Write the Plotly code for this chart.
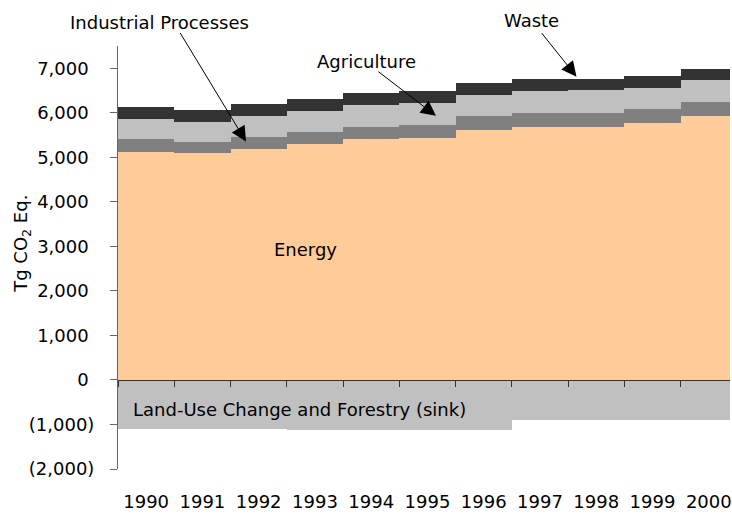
import plotly.graph_objects as go

years = ["1990", "1991", "1992", "1993", "1994", "1995", "1996", "1997", "1998", "1999", "2000"]
energy = [5124, 5086, 5191, 5310, 5409, 5438, 5617, 5691, 5691, 5781, 5931]
industrial = [292, 262, 269, 263, 282, 291, 314, 314, 314, 307, 314]
agriculture = [448, 449, 471, 470, 486, 493, 471, 486, 508, 477, 493]
waste = [275, 269, 269, 269, 269, 269, 269, 269, 247, 269, 246]
lucf = [-1105, -1105, -1105, -1120, -1120, -1120, -1120, -903, -903, -903, -903]

y_tickvals = [-2000, -1000, 0, 1000, 2000, 3000, 4000, 5000, 6000, 7000]
y_ticktext = ["(2,000)", "(1,000)", "0\u00a0", "1,000\u00a0", "2,000\u00a0", "3,000\u00a0",
              "4,000\u00a0", "5,000\u00a0", "6,000\u00a0", "7,000\u00a0"]

FONT = "DejaVu Sans, Verdana, sans-serif"
FS = 18

fig = go.Figure()
series = [
    ("Energy", energy, "#FFCC99"),
    ("Industrial Processes", industrial, "#808080"),
    ("Agriculture", agriculture, "#C0C0C0"),
    ("Waste", waste, "#333333"),
    ("Land-Use Change and Forestry (sink)", lucf, "#C0C0C0"),
]
for name, vals, col in series:
    fig.add_trace(go.Bar(x=years, y=vals, name=name, marker=dict(color=col, line=dict(width=0)),
                         showlegend=False))

# invisible trace to carry the zero-line axis
fig.add_trace(go.Scatter(x=years, y=[0] * len(years), xaxis="x2", mode="markers",
                         marker=dict(opacity=0), hoverinfo="skip", showlegend=False))

xr = [-0.5, 10.377]
fig.update_layout(
    width=732, height=515,
    margin=dict(l=118, r=0, t=46, b=46),
    paper_bgcolor="white", plot_bgcolor="white",
    barmode="relative", bargap=0,
    font=dict(family=FONT, size=FS, color="black"),
    xaxis=dict(type="category", range=xr, showline=False, ticks="", showgrid=False,
               zeroline=False, ticklabelstandoff=20, tickfont=dict(size=FS)),
    xaxis2=dict(type="category", overlaying="x", anchor="free", position=2000 / 9500,
                range=xr, showline=True, linecolor="#333333", linewidth=1,
                ticks="outside", ticklen=6, tickcolor="#333333", tickson="boundaries",
                showticklabels=False, showgrid=False, zeroline=False, side="bottom"),
    yaxis=dict(range=[-2000, 7500], tickvals=y_tickvals, ticktext=y_ticktext,
               showline=True, linecolor="#666666", linewidth=1, ticks="outside",
               ticklen=7, tickcolor="#666666", showgrid=False, zeroline=False,
               ticklabelstandoff=12, tickfont=dict(size=FS)),
)

ann = []
def label(text, x, y, xanchor="center", **kw):
    ann.append(dict(text=text, xref="paper", yref="paper", x=x, y=y, xanchor=xanchor,
                    yanchor="middle", showarrow=False, **kw))

label("Tg CO<sub>2</sub> Eq.", -0.1568, 0.5325, textangle=-90)
label("Energy", 0.3057, 0.5183)
label("Land-Use Change and Forestry (sink)", 0.0218, 0.1405, xanchor="left")
label("Industrial Processes", 0.0679, 1.0567)
label("Agriculture", 0.4067, 0.9622)
label("Waste", 0.6754, 1.0614)

# arrows (tip in data coords, tail offset in pixels)
for tx, ty, dx, dy in [(1.775, 5355, -66.7, -110), (5.151, 5931, -59, -45.3), (7.649, 6812, -36, -45)]:
    ann.append(dict(text="", x=tx, y=ty, xref="x", yref="y", ax=dx, ay=dy, showarrow=True,
                    arrowhead=2, arrowsize=3, arrowwidth=1, arrowcolor="black"))
fig.update_layout(annotations=ann)

fig.write_html("out.html", config={"displayModeBar": False},
               post_script="document.body.style.margin='0';")
